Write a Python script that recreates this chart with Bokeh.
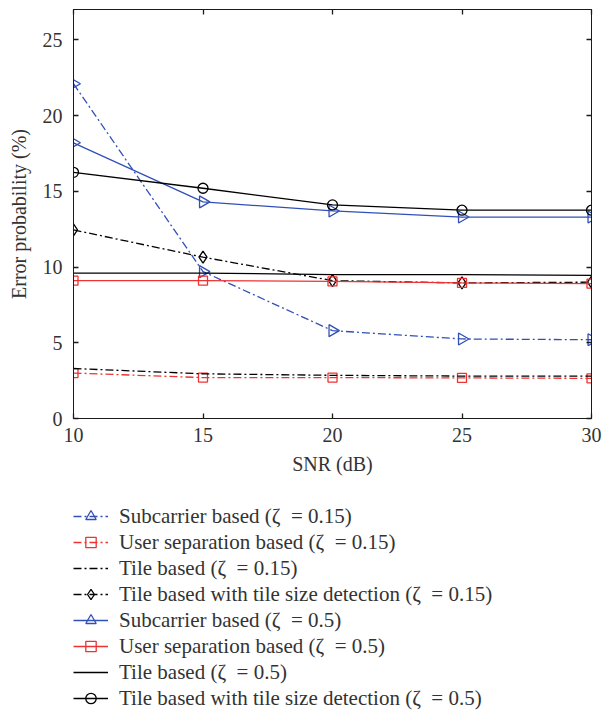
import math
from bokeh.plotting import figure
from bokeh.layouts import column
from bokeh.models import Legend, LegendItem, LinearAxis, Range1d, FixedTicker
from bokeh.embed import file_html
from bokeh.resources import INLINE

snr = [10, 15, 20, 25, 30]
sub_015 = [22.1, 9.7, 5.8, 5.25, 5.2]
user_015 = [3.0, 2.7, 2.7, 2.68, 2.65]
tile_015 = [3.3, 2.95, 2.85, 2.8, 2.8]
tiledet_015 = [12.45, 10.65, 9.1, 8.95, 9.0]
sub_05 = [18.2, 14.3, 13.7, 13.3, 13.3]
user_05 = [9.1, 9.1, 9.05, 8.95, 8.9]
tile_05 = [9.6, 9.6, 9.5, 9.5, 9.45]
tiledet_05 = [16.25, 15.2, 14.1, 13.75, 13.75]

labels = [
    "Subcarrier based (ζ  = 0.15)",
    "User separation based (ζ  = 0.15)",
    "Tile based (ζ  = 0.15)",
    "Tile based with tile size detection (ζ  = 0.15)",
    "Subcarrier based (ζ  = 0.5)",
    "User separation based (ζ  = 0.5)",
    "Tile based (ζ  = 0.5)",
    "Tile based with tile size detection (ζ  = 0.5)",
]
x_ticks = [10, 15, 20, 25, 30]
y_ticks = [0, 5, 10, 15, 20, 25]

BLUE = "#3050b8"
RED = "#ee3333"
BLACK = "#000000"
FONT = "Liberation Serif"
DD = "8 3 2 3"
AX = "#1a1a1a"

H1 = 485
p = figure(width=602, height=H1, frame_width=518, frame_height=409,
           x_range=Range1d(10, 30), y_range=Range1d(0, 27),
           output_backend="svg", toolbar_location=None,
           min_border_left=73, min_border_top=9, min_border_right=11,
           min_border_bottom=H1 - 418,
           background_fill_color=None, border_fill_color="white")
p.grid.visible = False
p.outline_line_color = AX

for ax in p.xaxis + p.yaxis:
    ax.major_tick_in = 5
    ax.major_tick_out = 0
    ax.major_tick_line_width = 1.3
    ax.minor_tick_line_color = None
    ax.axis_line_color = AX
    ax.major_tick_line_color = AX
    ax.major_label_text_font = FONT
    ax.major_label_text_font_size = "20px"
    ax.major_label_text_color = "#333333"
    ax.axis_label_text_font = FONT
    ax.axis_label_text_font_size = "20px"
    ax.axis_label_text_font_style = "normal"
    ax.axis_label_text_color = "#333333"
p.xaxis.ticker = FixedTicker(ticks=x_ticks)
p.yaxis.ticker = FixedTicker(ticks=y_ticks)
p.xaxis.axis_label = "SNR (dB)"
p.yaxis.axis_label = "Error probability (%)"
p.xaxis.major_label_standoff = 9
p.yaxis.major_label_standoff = 11
p.xaxis.axis_label_standoff = 8
p.yaxis.axis_label_standoff = 10

top = LinearAxis(ticker=FixedTicker(ticks=x_ticks), major_tick_in=5, major_tick_out=0,
                 minor_tick_line_color=None, axis_line_color=AX,
                 major_tick_line_color=AX, major_tick_line_width=1.3,
                 major_label_standoff=0,
                 major_label_overrides={t: "" for t in x_ticks})
right = LinearAxis(ticker=FixedTicker(ticks=y_ticks), major_tick_in=5, major_tick_out=0,
                   minor_tick_line_color=None, axis_line_color=AX,
                   major_tick_line_color=AX, major_tick_line_width=1.3,
                   major_label_standoff=0,
                   major_label_overrides={t: "" for t in y_ticks})
p.add_layout(top, "above")
p.add_layout(right, "right")

# legend figure: same series, drawn outside its visible range
H2 = 711 - H1
q = figure(width=602, height=H2, x_range=Range1d(-100, -99), y_range=Range1d(-100, -99),
           output_backend="svg", toolbar_location=None,
           x_axis_location=None, y_axis_location=None,
           min_border=0, outline_line_color=None,
           background_fill_color="white", border_fill_color="white")
q.grid.visible = False

W = 1.3
items = []

def series(y, color, dash, marker, size, idx, angle=0.0):
    lw = dict(line_color=color, line_width=W, line_dash=dash)
    p.line(snr, y, **lw)
    r = [q.line(snr, y, **lw)]
    if marker:
        mk = dict(marker=marker, size=size, angle=angle, line_color=color,
                  fill_color=None, line_width=W)
        p.scatter(snr, y, **mk)
        r.append(q.scatter(snr, y, **mk))
    items.append(LegendItem(label=labels[idx], renderers=r))

series(sub_015, BLUE, DD, "triangle", 12, 0, angle=-math.pi / 2)
series(user_015, RED, DD, "square", 9, 1)
series(tile_015, BLACK, DD, None, 0, 2)
series(tiledet_015, BLACK, DD, "diamond", 12, 3)
series(sub_05, BLUE, "solid", "triangle", 12, 4, angle=-math.pi / 2)
series(user_05, RED, "solid", "square", 9, 5)
series(tile_05, BLACK, "solid", None, 0, 6)
series(tiledet_05, BLACK, "solid", "circle", 10, 7)

legend = Legend(items=items, location=(0, 0), orientation="vertical",
                label_text_font=FONT, label_text_font_size="21px",
                label_text_color="#333333",
                glyph_width=35, glyph_height=26, label_standoff=11,
                spacing=0, padding=0, margin=0,
                border_line_alpha=0, background_fill_alpha=0)
q.add_layout(legend, "center")

open("out.html", "w").write(file_html(column(p, q, spacing=0), INLINE))
